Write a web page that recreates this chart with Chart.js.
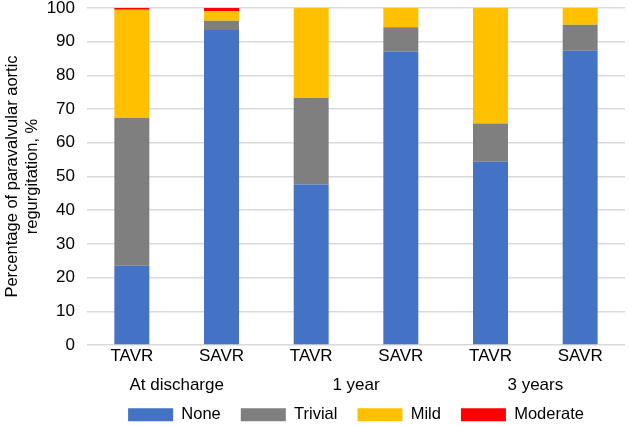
<!DOCTYPE html>
<html>
<head>
<meta charset="utf-8">
<script src="https://cdn.jsdelivr.net/npm/chart.js@4"></script>
<style>
  html, body { margin: 0; padding: 0; background: #fff; }
  #wrap { width: 629px; height: 426px; }
</style>
</head>
<body>
<div id="wrap"><canvas id="pvlChart" width="629" height="426"></canvas></div>
<script>
// Bars, left to right
const barLabels = ['TAVR', 'SAVR', 'TAVR', 'SAVR', 'TAVR', 'SAVR'];
const groupLabels = ['At discharge', '1 year', '3 years'];

// Percentages per severity (stacked)
const noneData = [23.5, 93.5, 47.6, 87.1, 54.4, 87.3];
const trivialData = [43.9, 2.7, 25.8, 7.2, 11.3, 7.7];
const mildData = [32.1, 2.9, 26.6, 5.7, 34.3, 5.0];
const moderateData = [0.5, 0.9, 0, 0, 0, 0];

const yTicks = [0, 10, 20, 30, 40, 50, 60, 70, 80, 90, 100];

const font = 'Liberation Sans, Arial, Helvetica, sans-serif';
const tickSize = 17;

// second row of x labels, centred under each TAVR/SAVR pair
const groupRow = {
    id: 'groupRow',
    afterDraw(chart) {
        const x = chart.scales.x;
        const c = chart.ctx;
        c.save();
        c.font = tickSize + 'px ' + font;
        c.fillStyle = '#000';
        c.textAlign = 'center';
        c.textBaseline = 'middle';
        groupLabels.forEach((g, i) => {
            const cx = (x.getPixelForValue(i * 2) + x.getPixelForValue(i * 2 + 1)) / 2;
            c.fillText(g, cx, x.top + 40);
        });
        c.restore();
    }
};

const ctx = document.getElementById('pvlChart').getContext('2d');
new Chart(ctx, {
    type: 'bar',
    data: {
        labels: barLabels,
        datasets: [
            { label: 'None', data: noneData, backgroundColor: '#4472C4' },
            { label: 'Trivial', data: trivialData, backgroundColor: '#7F7F7F' },
            { label: 'Mild', data: mildData, backgroundColor: '#FFC000' },
            { label: 'Moderate', data: moderateData, backgroundColor: '#FF0000' }
        ]
    },
    options: {
        responsive: false,
        animation: false,
        categoryPercentage: 1,
        barPercentage: 0.39,
        layout: { padding: { top: 0, right: 4, left: 0, bottom: -7 } },
        plugins: {
            tooltip: { enabled: false },
            legend: {
                position: 'bottom',
                fullSize: false,
                labels: {
                    boxWidth: 45,
                    boxHeight: 13,
                    padding: 20,
                    color: '#000',
                    font: { family: font, size: 16.5 }
                }
            }
        },
        scales: {
            x: {
                stacked: true,
                grid: { display: false, drawTicks: false },
                border: { display: false },
                ticks: { color: '#000', font: { family: font, size: tickSize }, padding: 1 },
                afterFit: function (axis) { axis.height = 41.5; }
            },
            y: {
                stacked: true,
                min: 0,
                max: 100,
                afterBuildTicks: function (axis) {
                    axis.ticks = yTicks.map(v => ({ value: v }));
                },
                afterFit: function (axis) {
                    axis.paddingTop = 8;
                    axis.width = 87;
                },
                grid: { color: '#D9D9D9', lineWidth: 1.5, drawTicks: false },
                border: { display: false },
                ticks: { color: '#000', font: { family: font, size: tickSize }, padding: 12 },
                title: {
                    display: true,
                    text: ['Percentage of paravalvular aortic', 'regurgitation, %'],
                    color: '#000',
                    font: { family: font, size: 16.5, lineHeight: 1.2 },
                    padding: { top: 3, bottom: 4 }
                }
            }
        }
    },
    plugins: [groupRow]
});
</script>
</body>
</html>
